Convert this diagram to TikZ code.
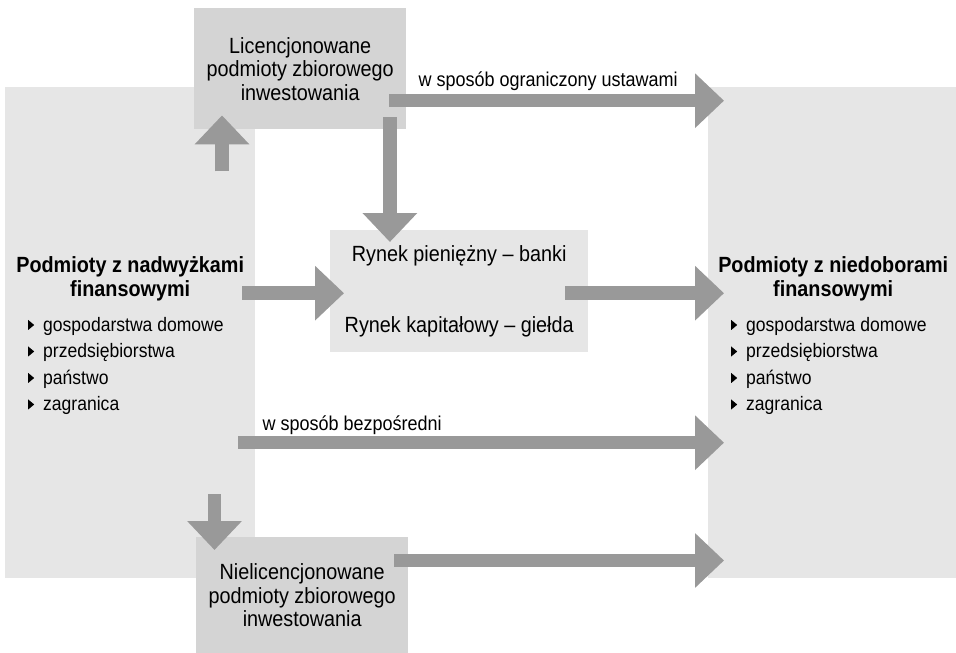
\documentclass[tikz,border=0pt]{standalone}
\usepackage{fontspec}
\setmainfont{Liberation Sans}[FakeStretch=0.9]
\usepackage{tikz}
\usetikzlibrary{arrows.meta,calc}
\usepackage{xcolor}
\definecolor{palecolor}{RGB}{230, 230, 230}
\definecolor{boxcolor}{RGB}{212, 212, 212}
\definecolor{flowcolor}{RGB}{153, 153, 153}
\newcommand{\itemmark}{\tikz[baseline=-1.5pt]\fill (0pt,0pt) -- (6pt,5pt) -- (0pt,10pt) -- cycle;\hspace{9pt}}

\begin{document}
\begin{tikzpicture}[
    x=1pt, y=-1pt,
    panel/.style={rectangle, fill=palecolor, inner sep=0, anchor=north west},
    fund/.style={rectangle, fill=boxcolor, inner sep=0, anchor=north west, align=center, font=\fontsize{22}{23.5}\selectfont},
    heading/.style={align=center, inner sep=0, font=\bfseries\fontsize{22}{24}\selectfont},
    itemlist/.style={align=left, inner sep=0, anchor=west, font=\fontsize{19.5}{26.5}\selectfont},
    flowlabel/.style={inner sep=0, anchor=base west, font=\fontsize{20}{22}\selectfont},
    flow/.style={-{Triangle[width=53pt,length=29pt]}, line width=13.5pt, draw=flowcolor}
]
    \useasboundingbox (0,0) rectangle (956,653);

    % Surplus and deficit sides
    \node[panel, minimum width=250, minimum height=491] (surplus) at (5,87) {};
    \node[panel, minimum width=248, minimum height=491] (deficit) at (708,87) {};

    % Markets
    \node[panel, minimum width=258, minimum height=122, align=center, font=\fontsize{22}{23.5}\selectfont] (market) at (330,230)
        {Rynek pieniężny – banki\\[48pt]Rynek kapitałowy – giełda};

    % Collective investment
    \node[fund, minimum width=212, minimum height=121] (lic) at (194,8) {Licencjonowane\\podmioty zbiorowego\\inwestowania};
    \node[fund, minimum width=212, minimum height=116] (nonlic) at (196,537) {Nielicencjonowane\\podmioty zbiorowego\\inwestowania};

    % Side texts
    \node[heading] (surplustitle) at ($(surplus.north)+(0,192)$) {Podmioty z nadwyżkami\\finansowymi};
    \node[itemlist] (surpluslist) at ($(surplus.west)+(23,33.5)$)
        {\itemmark gospodarstwa domowe\\\itemmark przedsiębiorstwa\\\itemmark państwo\\\itemmark zagranica};
    \node[heading] (deficittitle) at ($(deficit.north)+(1,192)$) {Podmioty z niedoborami\\finansowymi};
    \node[itemlist] (deficitlist) at ($(deficit.west)+(23,33.5)$)
        {\itemmark gospodarstwa domowe\\\itemmark przedsiębiorstwa\\\itemmark państwo\\\itemmark zagranica};

    % Labels
    \node[flowlabel] (limited) at ($(lic.east)+(12,17.5)$) {w sposób ograniczony ustawami};
    \node[flowlabel] (direct) at ($(surplus.east)+(7,97.5)$) {w sposób bezpośredni};

    % Flows
    \draw[flow] ($(lic.south west)+(28,42)$) -- ($(lic.south west)+(28,-14)$);
    \draw[flow] ($(lic.east)+(-17,32)$) -- ($(deficit.west |- lic.east)+(16,32)$);
    \draw[flow] ($(lic.south east)+(-16.5,-12)$) -- ($(market.north west -| lic.south east)+(-16.5,12)$);
    \draw[flow] ($(surplus.east)+(-13,-39.5)$) -- ($(market.west)+(14,2)$);
    \draw[flow] ($(market.east)+(-23,2)$) -- ($(deficit.west |- market.east)+(16,2)$);
    \draw[flow] ($(surplus.east)+(-17,110)$) -- ($(deficit.west)+(16,110)$);
    \draw[flow] ($(nonlic.north west)+(18.5,-43)$) -- ($(nonlic.north west)+(18.5,13)$);
    \draw[flow] ($(nonlic.north east)+(-14,23.5)$) -- ($(deficit.west |- nonlic.north east)+(16,23.5)$);
\end{tikzpicture}
\end{document}
